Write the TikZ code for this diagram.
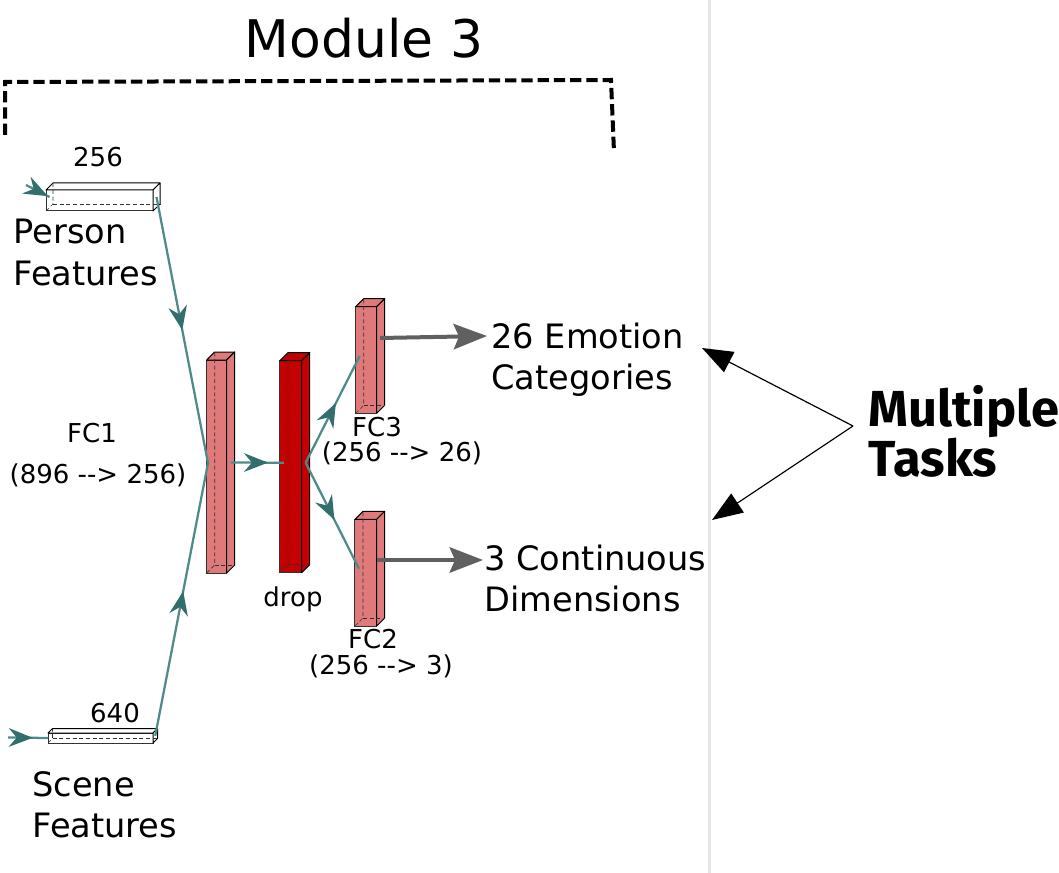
\documentclass[tikz,border=0pt]{standalone}
\usepackage{fontspec}
\setmainfont{DejaVu Sans}
\newfontfamily\taskfont{Fira Sans}
\usetikzlibrary{arrows.meta,decorations.markings,calc}

\definecolor{flowteal}{RGB}{80,138,138}
\definecolor{headteal}{RGB}{50,110,110}
\definecolor{fcpink}{RGB}{224,122,122}
\definecolor{dropred}{RGB}{196,0,0}
\definecolor{outgray}{RGB}{96,96,96}
\definecolor{rulegray}{RGB}{230,230,230}

\newcommand{\maps}{\mbox{-}\mbox{-}>}

\tikzset{every picture/.style={line width=0.75pt}}
\tikzset{
  layer/.style={draw=black!80, line width=0.75pt, inner sep=0pt, outer sep=0pt},
  hidden/.style={draw=black!80, dash pattern=on 3pt off 2pt, line width=0.5pt},
  flow/.style={draw=flowteal, line width=1.7pt, postaction={decorate},
    decoration={markings, mark=at position #1 with {\arrow[headteal]{Stealth[length=18pt,width=14pt,inset=6pt]}}}},
  flow/.default=0.5,
  outarrow/.style={draw=outgray, line width=3pt, -{Stealth[length=25pt,width=19pt,inset=4pt]}},
  taskarrow/.style={line width=0.9pt, -{Triangle[length=23pt,width=17pt]}},
  bracket/.style={line width=3pt, dash pattern=on 8.5pt off 3.7pt},
  biglabel/.style={anchor=north west, inner sep=0pt, align=left, font=\fontsize{25.2}{31.1}\selectfont},
  smalllabel/.style={anchor=base, inner sep=0pt, font=\fontsize{19.5}{23}\selectfont},
}

% layer as a box: name, front centre x, y, width, height, depth, colour
\newcommand{\layerbox}[7]{%
  \node[layer, fill=#7, minimum width=#4*0.75pt, minimum height=#5*0.75pt] (#1) at (#2,#3) {};
  \draw[fill=#7, line join=round] (#1.north west) -- ++(#6,-#6) -- ++(#4,0) -- (#1.north east) -- cycle;
  \draw[fill=#7, line join=round] (#1.north east) -- ++(#6,-#6) -- ++(0,#5) -- (#1.south east) -- cycle;
  \draw[hidden] (#1.south west) -- ++(#6,-#6) coordinate (#1-bl) -- ++(0,-#5);
  \draw[hidden] (#1-bl) -- ++(#4,0);
  \coordinate (#1-l) at ($(#1.west)+(#6/2,-#6/2)$);
  \coordinate (#1-r) at ($(#1.east)+(#6/2,-#6/2)$);
}

\begin{document}
\begin{tikzpicture}[x=0.75pt,y=0.75pt,yscale=-1,xscale=1]
\useasboundingbox (0,0) rectangle (1059,873);

% Separator
\draw[rulegray, line width=2.25pt] (709,0) -- (709,873);

% Bracket
\draw[bracket] (5,135) -- (5,82) -- (611,80) -- (614,152);
\node[anchor=base, inner sep=0pt, font=\fontsize{38.9}{46}\selectfont] (title) at (364,58) {Module 3};

% Layers
\layerbox{person}{99.5}{200.5}{107}{21}{7}{white}
\layerbox{scene}{100.5}{738}{105}{10}{4.5}{white}
\layerbox{fcone}{216.7}{466.5}{20}{213}{8}{fcpink}
\layerbox{drop}{290.8}{466.7}{21.7}{212}{8}{dropred}
\layerbox{fcthree}{366.2}{360}{21}{106.6}{8}{fcpink}
\layerbox{fctwo}{365.8}{572.7}{21.7}{106.7}{8}{fcpink}

% Text Node
\node[smalllabel] (persondim) at (98,167) {256};
\node[smalllabel] (scenedim) at (115,722) {640};
\node[biglabel] (personlab) at (13,219) {Person\\Features};
\node[biglabel] (scenelab) at (32,771) {Scene\\Features};
\node[smalllabel] (fconelab) at (92,442) {FC1};
\node[smalllabel] (fconesize) at (98,483) {(896 \maps{} 256)};
\node[smalllabel] (droplab) at (293,606) {drop};
\node[smalllabel] (fcthreelab) at (377,436) {FC3};
\node[smalllabel] (fcthreesize) at (402,461) {(256 \maps{} 26)};
\node[smalllabel] (fctwolab) at (373,648) {FC2};
\node[smalllabel] (fctwosize) at (381,674) {(256 \maps{} 3)};
\node[biglabel] (emo) at (491,322) {26 Emotion\\Categories};
\node[biglabel] (dims) at (484,544) {3 Continuous\\Dimensions};
\node[anchor=north west, inner sep=0pt, align=left, font=\taskfont\bfseries\fontsize{38}{37.5}\selectfont] (tasks) at (868,385) {Multiple\\Tasks};

% Connection
\coordinate (person-in) at (26,185);
\coordinate (scene-in) at (8,737.5);
\coordinate (fcone-in) at (208,463);
\draw[flow=0.93] (person-in) -- (person-l);
\draw[flow=0.62] (scene-in) -- (scene.west);
\draw[flow=0.5] (person-r) -- (fcone-in);
\draw[flow=0.53] (scene-r) -- (fcone-in);
\draw[flow=0.7] (fcone-r) -- (drop-l);
\draw[flow=0.56] (drop-r) -- (fcthree-l);
\draw[flow=0.54] (drop-r) -- (fctwo-l);

% Outputs
\coordinate (fcthree-out) at (380,338);
\coordinate (emo-in) at (487,336);
\coordinate (fctwo-out) at (377,560);
\coordinate (dims-in) at (483,560);
\draw[outarrow] (fcthree-out) -- (emo-in);
\draw[outarrow] (fctwo-out) -- (dims-in);

% Tasks
\coordinate (task-hub) at (853,426);
\coordinate (emo-tip) at (702,348);
\coordinate (dims-tip) at (712,520);
\draw[taskarrow] (task-hub) -- (emo-tip);
\draw[taskarrow] (task-hub) -- (dims-tip);

\end{tikzpicture}
\end{document}
